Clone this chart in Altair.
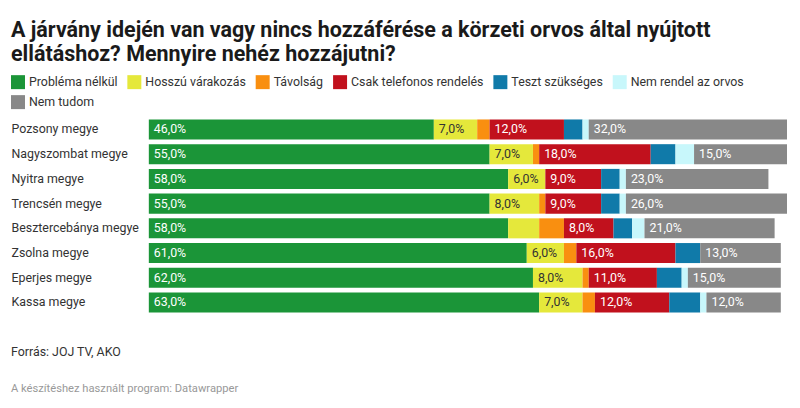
import altair as alt
import pandas as pd

counties = ["Pozsony megye", "Nagyszombat megye", "Nyitra megye", "Trencsén megye",
            "Besztercebánya megye", "Zsolna megye", "Eperjes megye", "Kassa megye"]
categories = ["Probléma nélkül", "Hosszú várakozás", "Távolság", "Csak telefonos rendelés",
              "Teszt szükséges", "Nem rendel az orvos", "Nem tudom"]
colors = ["#1b9538", "#e5e83b", "#f98f10", "#c1111d", "#107aa9", "#c8f7fb", "#888888"]
label_colors = ["#ffffff", "#333333", "#333333", "#ffffff", "#ffffff", "#333333", "#ffffff"]

probl = [46, 55, 58, 55, 58, 61, 62, 63]
hosszu = [7, 7, 6, 8, 5, 6, 8, 7]
tavolsag = [2, 1, 0, 1, 4, 2, 1, 2]
telefon = [12, 18, 9, 9, 8, 16, 11, 12]
teszt = [3, 4, 3, 3, 3, 4, 4, 5]
nem_rendel = [1, 3, 1, 1, 2, 0, 1, 1]
nem_tudom = [32, 15, 23, 26, 21, 13, 15, 12]

series = [probl, hosszu, tavolsag, telefon, teszt, nem_rendel, nem_tudom]

rows = []
for i, c in enumerate(counties):
    start = 0
    for j, cat in enumerate(categories):
        v = series[j][i]
        rows.append({
            "county": c, "cat": cat, "value": v, "start": start, "end": start + v,
            "label": (f"{v:.1f}%".replace(".", ",")) if v >= 6 else "",
            "lcolor": label_colors[j],
        })
        start += v
df = pd.DataFrame(rows)

W, H = 639, 198
FONT = "Roboto"
FS = 12.4

y_enc = alt.Y("county:N", sort=counties,
              scale=alt.Scale(paddingInner=0.19, paddingOuter=0.095),
              axis=alt.Axis(title=None, domain=False, ticks=False, tickSize=0,
                            labelAlign="left", labelPadding=138, labelFontSize=FS,
                            labelFont=FONT, labelColor="#333333", labelLimit=200))
x_scale = alt.Scale(domain=[0, 103], nice=False)

bars = alt.Chart(df).mark_bar(strokeWidth=0).encode(
    y=y_enc,
    x=alt.X("start:Q", scale=x_scale, axis=None),
    x2="end:Q",
    color=alt.Color("cat:N", sort=categories,
                    scale=alt.Scale(domain=categories, range=colors),
                    legend=alt.Legend(orient="none", legendX=-138, legendY=-42,
                                      direction="horizontal", columns=6, title=None,
                                      symbolType="square", symbolSize=196,
                                      symbolStrokeWidth=0, labelFontSize=FS,
                                      labelFont=FONT, labelColor="#333333",
                                      columnPadding=9.5, rowPadding=6, labelOffset=4,
                                      padding=0, labelLimit=300)),
)

labels = alt.Chart(df).mark_text(align="left", baseline="middle", dx=5,
                                 fontSize=FS, font=FONT).encode(
    y=alt.Y("county:N", sort=counties),
    x=alt.X("start:Q", scale=x_scale),
    text="label:N",
    color=alt.Color("lcolor:N", scale=None),
)

footer_df = pd.DataFrame({"t": ["Forrás: JOJ TV, AKO"]})
credit_df = pd.DataFrame({"t": ["A készítéshez használt program: Datawrapper"]})

footer = alt.Chart(footer_df).mark_text(align="left", baseline="alphabetic", fontSize=12.4,
                                        font=FONT, color="#333333").encode(
    x=alt.value(-138), y=alt.value(239.5), text="t:N")
credit = alt.Chart(credit_df).mark_text(align="left", baseline="alphabetic", fontSize=11.2,
                                        font=FONT, color="#999999").encode(
    x=alt.value(-138), y=alt.value(275.5), text="t:N")

chart = alt.layer(bars, labels, footer, credit).properties(
    width=W, height=H,
    padding={"left": 3, "top": 12, "right": 5, "bottom": 0},
    title=alt.TitleParams(
        text=["A járvány idején van vagy nincs hozzáférése a körzeti orvos által nyújtott",
              "ellátáshoz? Mennyire nehéz hozzájutni?"],
        anchor="start", frame="bounds", fontSize=21.5, font=FONT, fontWeight="bold",
        lineHeight=23.5, color="#1a1a1a", offset=10),
).configure_view(stroke=None)

chart.save("out.html", embed_options={"renderer": "svg", "actions": False})
